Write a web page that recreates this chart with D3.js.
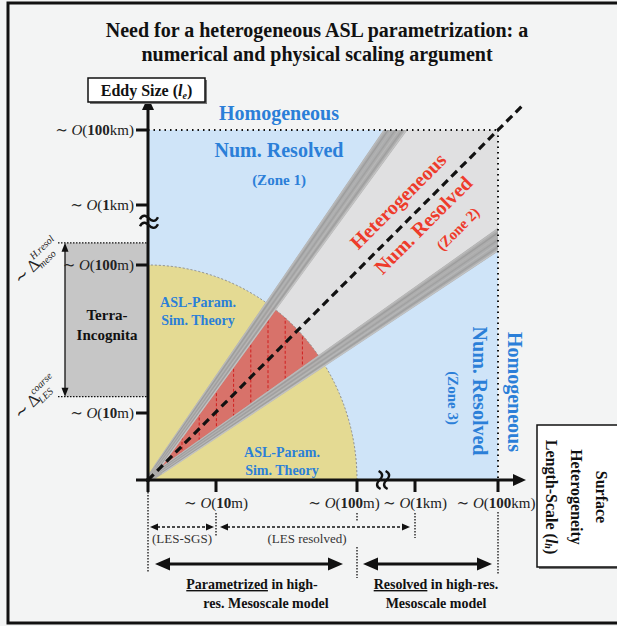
<!DOCTYPE html>
<html><head><meta charset="utf-8">
<script src="https://cdn.jsdelivr.net/npm/d3@7"></script>
<style>body{margin:0;background:#f3f4f4}svg{display:block}</style>
</head><body><svg id="c" width="617" height="626"></svg>
<script>
// ---------- data ----------
const titleLines = ["Need for a heterogeneous ASL parametrization: a", "numerical and physical scaling argument"];
const decadeKeys = [0, 1, 2, 3, 5];          // log10(metres): 1m,10m,100m,1km,100km
const xTickDecades = [1, 2, 3, 5];
const yTickDecades = [1, 2, 3, 5];
const tickNums = ["10", "100", "1", "100"];
const tickUnits = ["m", "m", "km", "km"];
const wedgeUpperEnd = [2.66, 5];             // (x-decade, y-decade) of upper wedge edge end
const wedgeLowerEnd = [5, 2.42];
const aslRadiusDecade = 2;                   // ASL similarity region up to ~100m
const yBreakDecade = 2.72, xBreakDecade = 2.45;
const terraTopDecade = 2.37, terraBottomDecade = 1.11;
const zone1Lines = ["Homogeneous", "Num. Resolved", "(Zone 1)"];
const zone2Lines = ["Heterogeneous", "Num. Resolved", "(Zone 2)"];
const zone3Lines = ["Homogeneous", "Num. Resolved", "(Zone 3)"];
const aslLines = ["ASL-Param.", "Sim. Theory"];
const terraLines = ["Terra-", "Incognita"];
const surfaceLines = ["Surface", "Heterogeneity", "Length-Scale ("];
const lesLabels = ["(LES-SGS)", "(LES resolved)"];

// ---------- setup ----------
const svg = d3.select("#c");
const SERIF = "'Liberation Serif', 'DejaVu Serif', serif";
const BLUE = "#2b7fd8", RED = "#ee3b2b";
const x = d3.scaleLinear().domain(decadeKeys).range([148, 216, 357, 415, 498]);
const y = d3.scaleLinear().domain(decadeKeys).range([480, 413, 265, 205, 130]);
const X0 = x(0), Y0 = y(0);

const defs = svg.append("defs");
defs.append("clipPath").attr("id", "ell").append("ellipse")
  .attr("cx", X0).attr("cy", Y0)
  .attr("rx", x(aslRadiusDecade) - X0).attr("ry", Y0 - y(aslRadiusDecade));
defs.append("clipPath").attr("id", "plot").append("rect")
  .attr("x", X0).attr("y", y(5)).attr("width", x(5) - X0).attr("height", Y0 - y(5));

// outer frame
svg.append("rect").attr("x", 8).attr("y", 3).attr("width", 640).attr("height", 620)
  .attr("fill", "#f3f4f4").attr("stroke", "#111").attr("stroke-width", 3);

// title
svg.append("g").selectAll("text").data(titleLines).join("text")
  .attr("x", 317).attr("y", (d, i) => 37 + i * 24)
  .attr("text-anchor", "middle").attr("font-family", SERIF).attr("font-weight", "bold")
  .attr("font-size", 20).attr("fill", "#111").text(d => d);

// blue plot area
svg.append("rect").attr("x", X0).attr("y", y(5)).attr("width", x(5) - X0).attr("height", Y0 - y(5))
  .attr("fill", "#cfe4f8");

// yellow ASL quarter ellipse
const rx = x(aslRadiusDecade) - X0, ry = Y0 - y(aslRadiusDecade);
svg.append("path")
  .attr("d", `M${X0},${Y0} L${x(aslRadiusDecade)},${Y0} A${rx},${ry} 0 0 0 ${X0},${y(aslRadiusDecade)} Z`)
  .attr("fill", "#e4da93");

// wedge
const U = [x(wedgeUpperEnd[0]), y(wedgeUpperEnd[1])];
const L = [x(wedgeLowerEnd[0]), y(wedgeLowerEnd[1])];
const C = [x(5), y(5)];
svg.append("path").attr("d", `M${X0},${Y0} L${U} L${C} L${L} Z`).attr("fill", "#e0e0e1");
const redG = svg.append("g").attr("clip-path", "url(#ell)");
redG.append("path").attr("d", `M${X0},${Y0} L${U} L${L} Z`).attr("fill", "#d8726a");
// hatch lines inside the red sector
const uSlope = (U[1] - Y0) / (U[0] - X0), lSlope = (L[1] - Y0) / (L[0] - X0);
const hatch = d3.range(182, 305, 17.2);
redG.selectAll("line.h").data(hatch).join("line")
  .attr("x1", d => d).attr("x2", d => d)
  .attr("y1", d => Y0 + uSlope * (d - X0)).attr("y2", d => Y0 + lSlope * (d - X0))
  .attr("stroke", "#d11f1f").attr("stroke-width", 1).attr("stroke-dasharray", "3,2");

// ellipse outline (dashed arc)
svg.append("path")
  .attr("d", `M${x(aslRadiusDecade)},${Y0} A${rx},${ry} 0 0 0 ${X0},${y(aslRadiusDecade)}`)
  .attr("fill", "none").attr("stroke", "#8c8c8c").attr("stroke-width", 1).attr("stroke-dasharray", "2,2");

// sketchy grey bands along wedge edges
const bandG = svg.append("g").attr("clip-path", "url(#plot)");
function band(E, ext) {
  const dx = E[0] - X0, dy = E[1] - Y0, len = Math.hypot(dx, dy);
  const ux = dx / len, uy = dy / len, nx = -uy, ny = ux;
  const Ex = X0 + ux * (len + ext), Ey = Y0 + uy * (len + ext);
  const w0 = 3, w1 = 10;
  bandG.append("path")
    .attr("d", `M${X0 + nx * w0},${Y0 + ny * w0} L${Ex + nx * w1},${Ey + ny * w1} L${Ex - nx * w1},${Ey - ny * w1} L${X0 - nx * w0},${Y0 - ny * w0} Z`)
    .attr("fill", "#aaaaaa").attr("opacity", 0.95);
  const offs = [-9, -6, -3, 0, 3, 6, 9];
  const cols = ["#bcbcbc", "#9c9c9c", "#b3b3b3", "#a0a0a0", "#b8b8b8", "#9e9e9e", "#c6c6c6"];
  offs.forEach((o, i) => {
    const a = 0.3;
    bandG.append("line")
      .attr("x1", X0 + ux * 15 + nx * o * a).attr("y1", Y0 + uy * 15 + ny * o * a)
      .attr("x2", Ex + nx * o).attr("y2", Ey + ny * o)
      .attr("stroke", cols[i]).attr("stroke-width", 1.3).attr("opacity", 0.9);
  });
}
band(U, 15);
band(L, 15);

// dotted borders of plot area
svg.append("line").attr("x1", X0).attr("x2", x(5)).attr("y1", y(5)).attr("y2", y(5))
  .attr("stroke", "#111").attr("stroke-width", 2).attr("stroke-dasharray", "1.5,4");
svg.append("line").attr("x1", x(5)).attr("x2", x(5)).attr("y1", y(5)).attr("y2", Y0)
  .attr("stroke", "#111").attr("stroke-width", 2).attr("stroke-dasharray", "1.5,4");

// dashed diagonal
svg.append("line").attr("x1", X0).attr("y1", Y0).attr("x2", C[0] + 25).attr("y2", C[1] - 25)
  .attr("stroke", "#111").attr("stroke-width", 3.2).attr("stroke-dasharray", "8,5");

// Terra incognita box
const tTop = y(terraTopDecade), tBot = y(terraBottomDecade);
svg.append("rect").attr("x", 65).attr("y", tTop).attr("width", X0 - 65).attr("height", tBot - tTop).attr("fill", "#c6c6c6");
[tTop, tBot].forEach(v => svg.append("line").attr("x1", 58).attr("x2", X0).attr("y1", v).attr("y2", v)
  .attr("stroke", "#111").attr("stroke-width", 1.3).attr("stroke-dasharray", "1.5,1.5"));
svg.append("line").attr("x1", 65).attr("x2", 65).attr("y1", tTop + 8).attr("y2", tBot - 8).attr("stroke", "#111").attr("stroke-width", 1.3);

function head(tx, ty, dx, dy, len, wid) {
  const nx = -dy, ny = dx;
  const bx = tx - dx * len, by = ty - dy * len;
  svg.append("path").attr("d", `M${tx},${ty} L${bx + nx * wid / 2},${by + ny * wid / 2} L${bx - nx * wid / 2},${by - ny * wid / 2} Z`).attr("fill", "#111");
}
head(65, tTop, 0, -1, 9, 7);
head(65, tBot, 0, 1, 9, 7);
svg.append("g").selectAll("text").data(terraLines).join("text")
  .attr("x", 107).attr("y", (d, i) => 320 + i * 20).attr("text-anchor", "middle")
  .attr("font-family", SERIF).attr("font-weight", "bold").attr("font-size", 15).attr("fill", "#111").text(d => d);

// Delta labels
function deltaLabel(cx, cy, sup, sub) {
  const g = svg.append("g").attr("transform", `translate(${cx},${cy}) rotate(-44)`).attr("font-family", SERIF).attr("fill", "#222");
  g.append("text").attr("x", -33).attr("y", 6).attr("font-size", 17).text("∼ Δ");
  g.append("text").attr("x", -6).attr("y", -3).attr("font-size", 10).attr("font-style", "italic").text(sup);
  g.append("text").attr("x", -6).attr("y", 9).attr("font-size", 10).attr("font-style", "italic").text(sub);
}
deltaLabel(40, 258, "H.resol", "meso");
deltaLabel(40, 393, "coarse", "LES");

// axes
svg.append("line").attr("x1", X0).attr("x2", X0).attr("y1", Y0 + 2).attr("y2", 108).attr("stroke", "#111").attr("stroke-width", 3);
head(X0, 97, 0, -1, 13, 12);
svg.append("line").attr("x1", X0 - 2).attr("x2", 514).attr("y1", Y0).attr("y2", Y0).attr("stroke", "#111").attr("stroke-width", 3);
head(526, Y0, 1, 0, 13, 12);

// ticks
svg.append("g").selectAll("line").data([0].concat(yTickDecades)).join("line")
  .attr("x1", X0 - 12).attr("x2", X0).attr("y1", d => y(d)).attr("y2", d => y(d))
  .attr("stroke", "#111").attr("stroke-width", 3);
svg.append("g").selectAll("line").data([0].concat(xTickDecades)).join("line")
  .attr("y1", Y0).attr("y2", Y0 + 12).attr("x1", d => x(d)).attr("x2", d => x(d))
  .attr("stroke", "#111").attr("stroke-width", 3);

// axis breaks
function brk(cx, cy, rot) {
  const g = svg.append("g").attr("transform", `translate(${cx},${cy}) rotate(${rot})`);
  [-3.5, 3.5].forEach(o => g.append("path")
    .attr("d", `M-9,${o + 1} C-6,${o - 5} -2,${o - 2} 0,${o} S6,${o + 5} 9,${o - 1}`)
    .attr("fill", "none").attr("stroke", "#111").attr("stroke-width", 2.4));
}
brk(X0 + 1, y(yBreakDecade), 0);
brk(x(xBreakDecade), Y0, 90);

// tick labels
function tickLabel(sel, num, unit) {
  sel.append("tspan").text("∼ ");
  sel.append("tspan").attr("font-style", "italic").text("O");
  sel.append("tspan").text("(");
  sel.append("tspan").attr("font-weight", "bold").text(num);
  sel.append("tspan").text(unit + ")");
}
yTickDecades.forEach((d, i) => {
  const t = svg.append("text").attr("x", 134).attr("y", y(d) + 5).attr("text-anchor", "end")
    .attr("font-family", SERIF).attr("font-size", 15).attr("fill", "#222");
  tickLabel(t, tickNums[i], tickUnits[i]);
});
const xLabelShift = [0, -13, 0, -2];
xTickDecades.forEach((d, i) => {
  const t = svg.append("text").attr("x", x(d) + xLabelShift[i]).attr("y", 508).attr("text-anchor", "middle")
    .attr("font-family", SERIF).attr("font-size", 15).attr("fill", "#222");
  tickLabel(t, tickNums[i], tickUnits[i]);
});

// dotted guide lines below axis
const guides = [[0, 492, 573], [1, 513, 537], [2, 513, 522], [2, 547, 578], [3, 513, 538], [5, 512, 575]];
svg.append("g").selectAll("line").data(guides).join("line")
  .attr("x1", d => x(d[0])).attr("x2", d => x(d[0])).attr("y1", d => d[1]).attr("y2", d => d[2])
  .attr("stroke", "#111").attr("stroke-width", 1.3).attr("stroke-dasharray", "1.5,1.5");

// dashed LES arrows
function dArrow(x1, x2, yy, dashed, sw, hl, hw) {
  svg.append("line").attr("x1", x1 + hl - 1).attr("x2", x2 - hl + 1).attr("y1", yy).attr("y2", yy)
    .attr("stroke", "#111").attr("stroke-width", sw).attr("stroke-dasharray", dashed ? "3,2" : null);
  head(x1, yy, -1, 0, hl, hw);
  head(x2, yy, 1, 0, hl, hw);
}
dArrow(x(0) + 2, x(1) - 2, 527, true, 1.3, 8, 7);
dArrow(x(1) + 4, x(3) - 5, 527, true, 1.3, 8, 7);
svg.append("g").selectAll("text").data(lesLabels).join("text")
  .attr("x", (d, i) => [182, 307][i]).attr("y", 543).attr("text-anchor", "middle")
  .attr("font-family", SERIF).attr("font-size", 13).attr("fill", "#333").text(d => d);

dArrow(x(0) + 7, x(2) - 14, 564, false, 3, 15, 13);
dArrow(x(2) + 6, x(5) - 6, 564, false, 3, 15, 13);

function boldText(cx, cy, parts, size) {
  const t = svg.append("text").attr("x", cx).attr("y", cy).attr("text-anchor", "middle")
    .attr("font-family", SERIF).attr("font-weight", "bold").attr("font-size", size).attr("fill", "#111");
  parts.forEach(p => t.append("tspan").attr("text-decoration", p[1] ? "underline" : null).text(p[0]));
}
boldText(252, 589, [["Parametrized", true], [" in high-", false]], 14);
boldText(266, 608, [["res. Mesoscale model", false]], 14);
boldText(436, 589, [["Resolved", true], [" in high-res.", false]], 14);
boldText(436, 608, [["Mesoscale model", false]], 14);

// Zone 1
svg.append("g").selectAll("text").data(zone1Lines).join("text")
  .attr("x", 279).attr("y", (d, i) => [120, 157, 185][i]).attr("text-anchor", "middle")
  .attr("font-family", SERIF).attr("font-weight", "bold").attr("font-size", (d, i) => [20, 20, 15][i])
  .attr("fill", BLUE).text(d => d);

// Zone 2 (rotated)
const z2c = [[398, 201], [423, 225], [458, 229]];
svg.append("g").selectAll("text").data(zone2Lines).join("text")
  .attr("transform", (d, i) => `translate(${z2c[i]}) rotate(-45)`)
  .attr("text-anchor", "middle").attr("dominant-baseline", "central")
  .attr("font-family", SERIF).attr("font-weight", "bold").attr("font-size", (d, i) => [20, 20, 15][i])
  .attr("fill", RED).text(d => d);

// Zone 3 (vertical)
const z3c = [[515, 392], [480, 391], [453, 398]];
svg.append("g").selectAll("text").data(zone3Lines).join("text")
  .attr("transform", (d, i) => `translate(${z3c[i]}) rotate(90)`)
  .attr("text-anchor", "middle").attr("dominant-baseline", "central")
  .attr("font-family", SERIF).attr("font-weight", "bold").attr("font-size", (d, i) => [20, 20, 15][i])
  .attr("fill", BLUE).text(d => d);

// ASL labels
[[198, 307], [282, 457]].forEach(c => {
  svg.append("g").selectAll("text").data(aslLines).join("text")
    .attr("x", c[0]).attr("y", (d, i) => c[1] + i * 18).attr("text-anchor", "middle")
    .attr("font-family", SERIF).attr("font-weight", "bold").attr("font-size", 14)
    .attr("fill", BLUE).text(d => d);
});

// Eddy size box
svg.append("rect").attr("x", 90).attr("y", 80).attr("width", 117).attr("height", 24).attr("fill", "#777");
svg.append("rect").attr("x", 88).attr("y", 78).attr("width", 117).attr("height", 24).attr("fill", "#fff").attr("stroke", "#111").attr("stroke-width", 1.5);
{
  const t = svg.append("text").attr("x", 146.5).attr("y", 96).attr("text-anchor", "middle")
    .attr("font-family", SERIF).attr("font-weight", "bold").attr("font-size", 16).attr("fill", "#111");
  t.append("tspan").text("Eddy Size (");
  t.append("tspan").attr("font-style", "italic").text("l");
  t.append("tspan").attr("font-style", "italic").attr("font-size", 10).attr("dy", 3).text("e");
  t.append("tspan").attr("dy", -3).text(")");
}

// Surface heterogeneity box
svg.append("rect").attr("x", 539).attr("y", 427).attr("width", 90).attr("height", 142).attr("fill", "#777");
svg.append("rect").attr("x", 537).attr("y", 425).attr("width", 90).attr("height", 142).attr("fill", "#fff").attr("stroke", "#111").attr("stroke-width", 1.5);
const sc = [602, 577, 552];
surfaceLines.forEach((s, i) => {
  const t = svg.append("text").attr("transform", `translate(${sc[i]},497) rotate(90)`)
    .attr("text-anchor", "middle").attr("dominant-baseline", "central")
    .attr("font-family", SERIF).attr("font-weight", "bold").attr("font-size", 16).attr("fill", "#111");
  t.append("tspan").text(s);
  if (i === 2) {
    t.append("tspan").attr("font-style", "italic").text("l");
    t.append("tspan").attr("font-style", "italic").attr("font-size", 10).attr("dy", 3).text("h");
    t.append("tspan").attr("dy", -3).text(")");
  }
});
</script></body></html>
